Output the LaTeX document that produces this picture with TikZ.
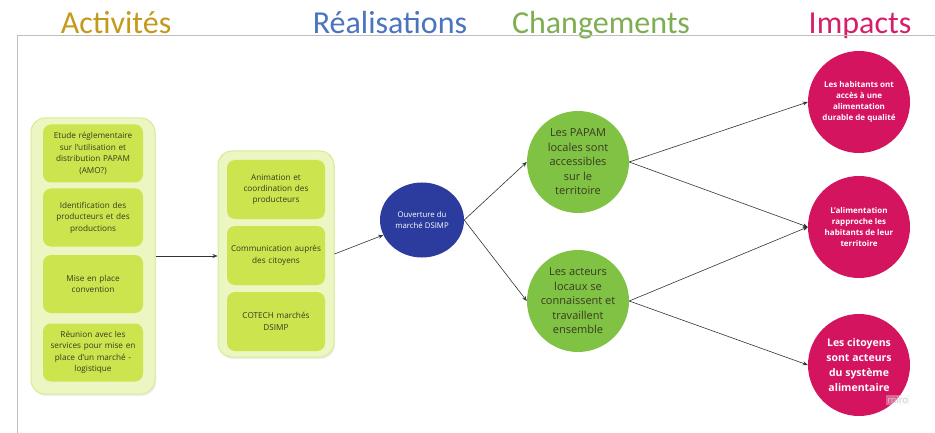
\documentclass[tikz,border=0pt]{standalone}
\usepackage{fontspec}
\setmainfont{Open Sans}
\newfontfamily\hdrfont{Carlito}
\usetikzlibrary{arrows.meta,shapes.geometric,shadows}
\definecolor{cAct}{HTML}{C49A1C}
\definecolor{cReal}{HTML}{4A74C0}
\definecolor{cChg}{HTML}{7DAF52}
\definecolor{cImp}{HTML}{D81E6B}
\definecolor{outerfill}{HTML}{ECF6C2}
\definecolor{outerdraw}{HTML}{D6EC92}
\definecolor{innerfill}{HTML}{CCE44E}
\definecolor{bluec}{HTML}{2C3C9E}
\definecolor{greenc}{HTML}{80C244}
\definecolor{pinkc}{HTML}{D4145F}
\definecolor{txtdark}{HTML}{3A3A22}
\definecolor{framec}{HTML}{BDBDBD}
\definecolor{arrc}{HTML}{333333}
\tikzset{
  header/.style={anchor=base, font=\hdrfont\fontsize{32}{36}\selectfont},
  container/.style={draw=outerdraw, line width=1pt, fill=outerfill, rounded corners=14pt,
    drop shadow={opacity=0.12, shadow xshift=1pt, shadow yshift=-2pt}},
  actbox/.style={fill=innerfill, rounded corners=8pt, minimum width=100pt, minimum height=58pt,
    text width=96pt, align=center, inner sep=0pt, text=txtdark, font=\fontsize{8.2}{11.4}\selectfont},
  realbox/.style={actbox, minimum width=98pt, minimum height=59pt, text width=96pt},
  bluenode/.style={ellipse, fill=bluec, minimum width=84pt, minimum height=75pt, inner sep=0pt,
    text=white, align=center, font=\fontsize{7.8}{11.5}\selectfont},
  greennode/.style={circle, fill=greenc, minimum size=102pt, inner sep=0pt, text=txtdark,
    align=center, font=\fontsize{11}{14.5}\selectfont},
  pinknode/.style={circle, fill=pinkc, minimum size=102pt, inner sep=0pt, text=white,
    align=center, font=\bfseries\fontsize{8}{10.8}\selectfont},
  conn/.style={draw=arrc, line width=0.6pt, -{Stealth[length=5pt,width=4pt]}}
}
\begin{document}
\begin{tikzpicture}[x=1pt,y=-1pt]
\useasboundingbox (0,0) rectangle (935,433);
\fill[white] (0,0) rectangle (935,433);
% headers
\node[header, text=cAct] (hAct) at (116,33.5) {Activités};
\node[header, text=cReal] (hReal) at (390,33.5) {Réalisations};
\node[header, text=cChg] (hChg) at (601,33.5) {Changements};
\node[header, text=cImp] (hImp) at (860,33.5) {Impacts};
% frame
\draw[framec, line width=1pt] (17,433) -- (17,36) -- (935,36);
% containers
\node[container, minimum width=124pt, minimum height=276pt] (left) at (93,256) {};
\node[container, minimum width=116pt, minimum height=206pt] (mid) at (276,254) {};
% activity boxes
\node[actbox] (a1) at (93,153.5) {Etude réglementaire\\sur l'utilisation et\\distribution PAPAM\\(AMO?)};
\node[actbox] (a2) at (93,217.5) {Identification des\\producteurs et des\\productions};
\node[actbox] (a3) at (93,284) {Mise en place\\convention};
\node[actbox] (a4) at (93,352.5) {Réunion avec les\\services pour mise en\\place d'un marché -\\logistique};
% realisation boxes
\node[realbox] (r1) at (276,189.5) {Animation et\\coordination des\\producteurs};
\node[realbox] (r2) at (276,255.5) {Communication auprès\\des citoyens};
\node[realbox] (r3) at (276,321.5) {COTECH marchés\\DSIMP};
% circles
\node[bluenode] (blue) at (422,220) {Ouverture du\\marché DSIMP};
\node[greennode] (g1) at (578,162) {Les PAPAM\\locales sont\\accessibles\\sur le\\territoire};
\node[greennode] (g2) at (578,301) {Les acteurs\\locaux se\\connaissent et\\travaillent\\ensemble};
\node[pinknode] (p1) at (859,102) {Les habitants ont\\accès à une\\alimentation\\durable de qualité};
\node[pinknode] (p2) at (859,227) {L'alimentation\\rapproche les\\habitants de leur\\territoire};
\node[pinknode, font=\bfseries\fontsize{10.5}{15}\selectfont] (p3) at (859,365) {Les citoyens\\sont acteurs\\du système\\alimentaire};
% watermark
\node[fill=gray!10, fill opacity=0.35, text opacity=1, text=gray!40, inner sep=1.5pt,
  font=\fontsize{9.5}{10}\selectfont] (miro) at (898,400) {miro};
% connectors
\draw[conn] (left.east) -- (left.east -| mid.west);
\draw[conn] (mid.east) -- (blue);
\draw[conn] (blue.east) -- (g1.west);
\draw[conn] (blue.east) -- (g2.west);
\draw[conn] (g1.east) -- (p1.west);
\draw[conn] (g1.east) -- (p2.west);
\draw[conn] (g2.east) -- (p2.west);
\draw[conn] (g2.east) -- (p3.west);
\end{tikzpicture}
\end{document}
